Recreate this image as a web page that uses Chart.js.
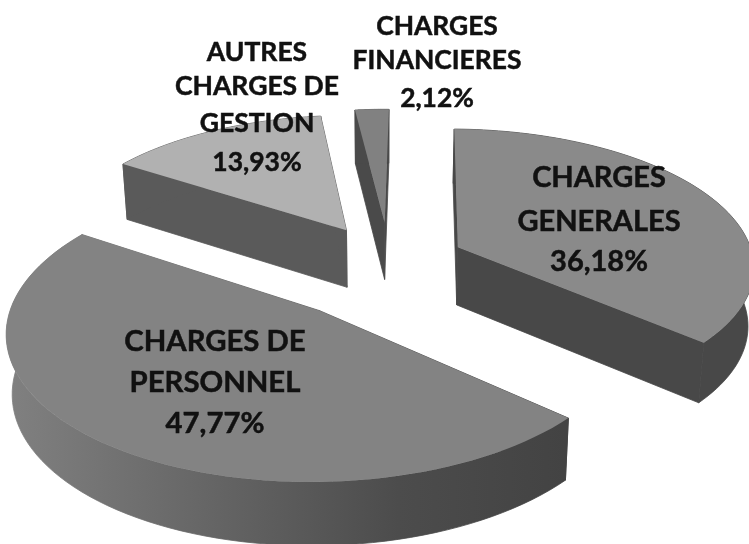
<!DOCTYPE html>
<html>
<head>
<meta charset="utf-8">
<style>
  html, body { margin: 0; padding: 0; background: #fff; }
  canvas { display: block; }
</style>
<script src="https://cdn.jsdelivr.net/npm/chart.js@4"></script>
</head>
<body>
<canvas id="pie" width="749" height="544"></canvas>
<script>
// Chart data
const categories = ['CHARGES GENERALES', 'CHARGES DE PERSONNEL', 'AUTRES CHARGES DE GESTION', 'CHARGES FINANCIERES'];
const shares = [36.18, 47.77, 13.93, 2.12];

// Slice styles
const topColors = ['#8a8a8a', '#838383', '#b1b1b1', '#818181'];
const wallColors = ['#484848', null, '#5a5a5a', '#4a4a4a'];
const explode = [56, 62, 54, 58];
const nudgeU = [0, -0.017, 0.015, 0.02];
const nudgeV = [-0.01, 0.08, -0.025, -0.025];
const drawOrder = [2, 3, 0, 1];

// Label layout, one entry per category
const labelLines = [
    ['CHARGES', 'GENERALES'],
    ['CHARGES DE', 'PERSONNEL'],
    ['AUTRES', 'CHARGES DE', 'GESTION'],
    ['CHARGES', 'FINANCIERES']
];
const labelX = [599, 215, 257, 437];
const labelY = [[178, 222, 262], [342, 383, 424], [52, 86, 123, 162], [26, 60, 98]];
const labelFont = [29, 29.3, 26.5, 26.4];

// Perspective of the pie floor
const CX = 383, CY = 264, SX = 297, SY = 137, PERSP = 0.125, DEPTH = 58, SHRINK = 0.984;

function project(u, v, lowered) {
    const s = 1 / (1 - PERSP * v);
    let x = CX + SX * u * s;
    let y = CY + SY * v * s;
    if (lowered) {
        x = CX + (x - CX) * SHRINK;
        y += DEPTH * (1 + (s - 1) * 0.5);
    }
    return [x, y];
}

function tracePoly(ctx, pts) {
    ctx.beginPath();
    pts.forEach((p, i) => i ? ctx.lineTo(p[0], p[1]) : ctx.moveTo(p[0], p[1]));
    ctx.closePath();
}

const pie3d = {
    id: 'pie3d',
    beforeDatasetsDraw(chart) {
        const ctx = chart.ctx;
        const arcs = chart.getDatasetMeta(0).data;

        drawOrder.forEach(i => {
            const arc = arcs[i];
            const { startAngle, endAngle, outerRadius } = arc.getProps(['startAngle', 'endAngle', 'outerRadius'], true);
            const mid = (startAngle + endAngle) / 2;
            const off = arc.options.offset / outerRadius;
            const ou = off * Math.cos(mid) + nudgeU[i];
            const ov = off * Math.sin(mid) + nudgeV[i];

            // sample the rim
            const rim = [];
            const steps = 80;
            for (let k = 0; k <= steps; k++) {
                const a = startAngle + (endAngle - startAngle) * k / steps;
                rim.push([ou + Math.cos(a), ov + Math.sin(a)]);
            }
            const top = rim.map(p => project(p[0], p[1], false));
            const low = rim.map(p => project(p[0], p[1], true));
            const apexTop = project(ou, ov, false);
            const apexLow = project(ou, ov, true);

            let wall = wallColors[i];
            if (!wall) {
                wall = ctx.createLinearGradient(10, 0, 565, 0);
                wall.addColorStop(0, '#808080');
                wall.addColorStop(0.35, '#666666');
                wall.addColorStop(0.7, '#4c4c4c');
                wall.addColorStop(1, '#434343');
            }
            ctx.fillStyle = wall;
            ctx.strokeStyle = wall;
            ctx.lineWidth = 0.8;

            // radial walls, then the outer wall, then the top face
            tracePoly(ctx, [apexTop, top[0], low[0], apexLow]);
            ctx.fill();
            ctx.stroke();
            tracePoly(ctx, [apexTop, top[steps], low[steps], apexLow]);
            ctx.fill();
            ctx.stroke();
            tracePoly(ctx, top.concat(low.slice().reverse()));
            ctx.fill();
            ctx.stroke();

            ctx.fillStyle = arc.options.backgroundColor;
            tracePoly(ctx, [apexTop].concat(top));
            ctx.fill();
        });

        // the arcs are painted above, skip the flat ones
        return false;
    },
    afterDraw(chart) {
        const ctx = chart.ctx;
        ctx.save();
        ctx.fillStyle = '#111111';
        ctx.strokeStyle = '#111111';
        ctx.lineWidth = 0.5;
        ctx.textAlign = 'center';
        ctx.textBaseline = 'middle';
        categories.forEach((name, i) => {
            ctx.font = 'bold ' + labelFont[i] + 'px Lato, sans-serif';
            const lines = labelLines[i].concat(shares[i].toFixed(2).replace('.', ',') + '%');
            lines.forEach((line, k) => {
                ctx.fillText(line, labelX[i], labelY[i][k]);
                ctx.strokeText(line, labelX[i], labelY[i][k]);
            });
        });
        ctx.restore();
    }
};

new Chart(document.getElementById('pie').getContext('2d'), {
    type: 'pie',
    data: {
        labels: categories,
        datasets: [{
            data: shares,
            backgroundColor: topColors,
            borderWidth: 0,
            offset: explode,
            radius: 200
        }]
    },
    options: {
        responsive: false,
        animation: false,
        rotation: 1,
        plugins: {
            legend: { display: false },
            tooltip: { enabled: false }
        }
    },
    plugins: [pie3d]
});
</script>
</body>
</html>
